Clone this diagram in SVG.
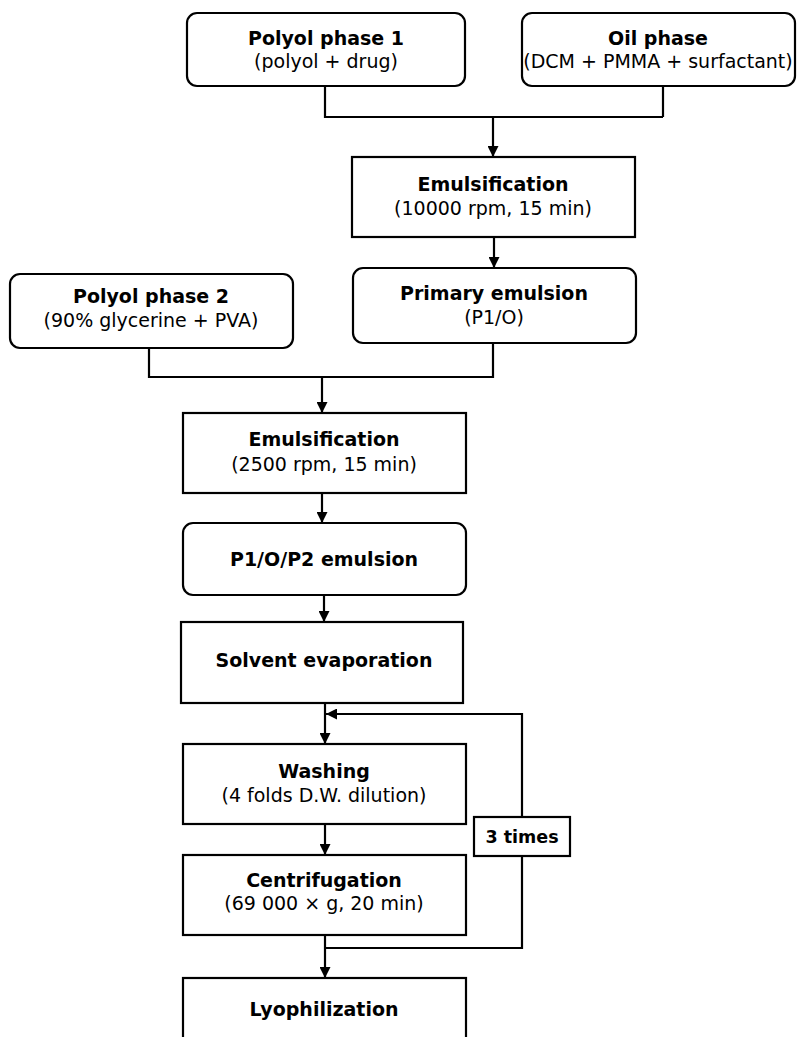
<svg xmlns="http://www.w3.org/2000/svg" width="797" height="1037" viewBox="0 0 797 1037">
<defs>
<marker id="ah" viewBox="0 0 10 10" refX="10" refY="5" markerWidth="11" markerHeight="11" markerUnits="userSpaceOnUse" orient="auto">
<path d="M0,0 L10,5 L0,10 Z" fill="#000"/>
</marker>
<style>
.box{fill:#fff;stroke:#000;stroke-width:2.2}
.ln{fill:none;stroke:#000;stroke-width:2.2}
.t{font-family:"DejaVu Sans","Noto Sans",sans-serif;font-size:19px;fill:#000;text-anchor:middle}
.b{font-weight:bold}
</style>
</defs>
<rect width="797" height="1037" fill="#fff"/>
<g id="connectors">
<polyline class="ln" points="325,86 325,117 663,117"/>
<line class="ln" x1="663" y1="86" x2="663" y2="117"/>
<line class="ln" x1="493" y1="117" x2="493" y2="157" marker-end="url(#ah)"/>
<line class="ln" x1="494" y1="237" x2="494" y2="268" marker-end="url(#ah)"/>
<polyline class="ln" points="149,348 149,377 493,377 493,343"/>
<line class="ln" x1="322" y1="377" x2="322" y2="413" marker-end="url(#ah)"/>
<line class="ln" x1="322" y1="493" x2="322" y2="523" marker-end="url(#ah)"/>
<line class="ln" x1="324" y1="595" x2="324" y2="622" marker-end="url(#ah)"/>
<line class="ln" x1="325" y1="703" x2="325" y2="744" marker-end="url(#ah)"/>
<polyline class="ln" points="325,948 522,948 522,714 326,714" marker-end="url(#ah)"/>
<line class="ln" x1="325" y1="824" x2="325" y2="855" marker-end="url(#ah)"/>
<line class="ln" x1="325" y1="935" x2="325" y2="978" marker-end="url(#ah)"/>
</g>
<g id="polyol1">
<rect class="box" x="187" y="13" width="278" height="73" rx="10"/>
<text class="t b" x="326" y="45">Polyol phase 1</text>
<text class="t" x="326" y="68">(polyol + drug)</text>
</g>
<g id="oil">
<rect class="box" x="522" y="13" width="273" height="73" rx="10"/>
<text class="t b" x="658" y="45">Oil phase</text>
<text class="t" x="658" y="68">(DCM + PMMA + surfactant)</text>
</g>
<g id="emul1">
<rect class="box" x="352" y="157" width="283" height="80"/>
<text class="t b" x="493" y="191">Emulsification</text>
<text class="t" x="493" y="215">(10000 rpm, 15 min)</text>
</g>
<g id="primary">
<rect class="box" x="353" y="268" width="283" height="75" rx="10"/>
<text class="t b" x="494" y="300">Primary emulsion</text>
<text class="t" x="494" y="324">(P1/O)</text>
</g>
<g id="polyol2">
<rect class="box" x="10" y="274" width="283" height="74" rx="10"/>
<text class="t b" x="151" y="303">Polyol phase 2</text>
<text class="t" x="151" y="327">(90% glycerine + PVA)</text>
</g>
<g id="emul2">
<rect class="box" x="183" y="413" width="283" height="80"/>
<text class="t b" x="324" y="446">Emulsification</text>
<text class="t" x="324" y="471">(2500 rpm, 15 min)</text>
</g>
<g id="p1op2">
<rect class="box" x="183" y="523" width="283" height="72" rx="10"/>
<text class="t b" x="324" y="566">P1/O/P2 emulsion</text>
</g>
<g id="solvent">
<rect class="box" x="181" y="622" width="282" height="81"/>
<text class="t b" x="324" y="667">Solvent evaporation</text>
</g>
<g id="washing">
<rect class="box" x="183" y="744" width="283" height="80"/>
<text class="t b" x="324" y="778">Washing</text>
<text class="t" x="324" y="802">(4 folds D.W. dilution)</text>
</g>
<g id="centrifugation">
<rect class="box" x="183" y="855" width="283" height="80"/>
<text class="t b" x="324" y="887">Centrifugation</text>
<text class="t" x="324" y="910">(69 000 × g, 20 min)</text>
</g>
<g id="lyophilization">
<rect class="box" x="183" y="978" width="283" height="80"/>
<text class="t b" x="324" y="1016">Lyophilization</text>
</g>
<g id="times">
<rect class="box" x="474" y="817" width="96" height="39"/>
<text class="t b" x="522" y="843" style="font-size:17.5px">3 times</text>
</g>
</svg>
